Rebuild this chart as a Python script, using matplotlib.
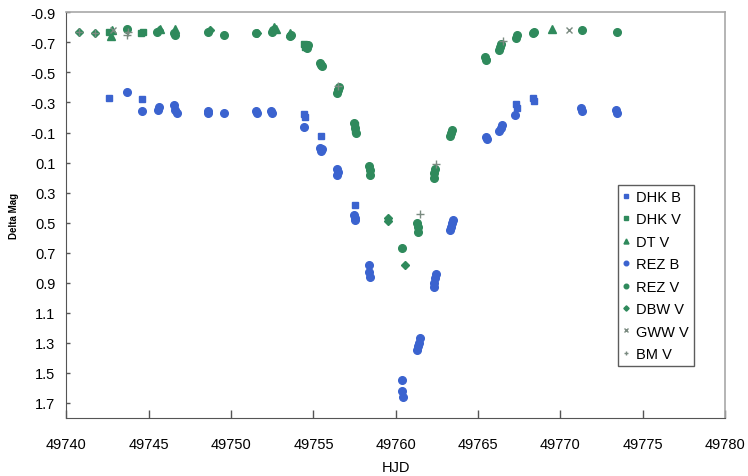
import matplotlib

matplotlib.use("Agg")
import matplotlib.pyplot as plt

plt.rcParams["font.family"] = ["Liberation Sans", "DejaVu Sans"]

BLUE = "#3b63cf"
GREEN = "#2f8a5c"
GREY = "#7a8a80"

# B band
dhk_b_hjd = [49742.6, 49744.6, 49754.45, 49754.5, 49755.45, 49757.5, 49767.3, 49767.35, 49768.35, 49768.4]
dhk_b_mag = [-0.33, -0.32, -0.22, -0.20, -0.08, 0.38, -0.29, -0.26, -0.33, -0.31]

rez_b_hjd = [49743.7, 49744.6, 49745.6, 49745.55, 49746.55, 49746.6, 49746.7,
             49748.6, 49748.62, 49749.55, 49751.5, 49751.55, 49752.45, 49752.5,
             49754.4, 49755.4, 49755.45, 49755.5, 49756.45, 49756.5, 49756.42,
             49757.45, 49757.5, 49757.55, 49758.35, 49758.4, 49758.45,
             49760.35, 49760.37, 49760.42, 49761.3, 49761.35, 49761.4, 49761.45,
             49762.3, 49762.35, 49762.4, 49762.45, 49763.3, 49763.35, 49763.4, 49763.45,
             49765.5, 49765.52, 49766.3, 49766.38, 49766.45, 49767.25,
             49771.25, 49771.3, 49773.4, 49773.45]
rez_b_mag = [-0.37, -0.24, -0.27, -0.25, -0.28, -0.25, -0.23,
             -0.24, -0.23, -0.23, -0.24, -0.23, -0.24, -0.23,
             -0.14, 0.0, 0.02, 0.01, 0.14, 0.16, 0.18,
             0.45, 0.47, 0.48, 0.78, 0.83, 0.86,
             1.55, 1.62, 1.66, 1.35, 1.32, 1.30, 1.27,
             0.93, 0.90, 0.87, 0.84, 0.55, 0.53, 0.50, 0.48,
             -0.07, -0.06, -0.11, -0.13, -0.15, -0.215,
             -0.26, -0.24, -0.25, -0.23]

# V band
dhk_v_hjd = [49742.6, 49744.55, 49744.65, 49754.45, 49754.5, 49757.5, 49757.55]
dhk_v_mag = [-0.77, -0.76, -0.77, -0.69, -0.67, -0.15, -0.12]

dt_v_hjd = [49742.7, 49742.75, 49745.7, 49746.6, 49752.6, 49752.7, 49753.6, 49769.5]
dt_v_mag = [-0.74, -0.78, -0.79, -0.79, -0.80, -0.79, -0.76, -0.79]

rez_v_hjd = [49743.7, 49745.5, 49746.55, 49746.6, 49748.6, 49749.55, 49751.5,
             49752.5, 49752.55, 49753.6, 49753.65, 49754.55, 49754.6, 49754.65,
             49755.4, 49755.45, 49755.5, 49756.45, 49756.5, 49756.55,
             49757.45, 49757.5, 49757.6, 49758.38, 49758.42, 49758.46,
             49760.37, 49761.28, 49761.33, 49761.38, 49762.3, 49762.35, 49762.4,
             49763.3, 49763.35, 49763.4, 49765.45, 49765.5, 49766.3, 49766.36, 49766.42,
             49767.3, 49767.35, 49768.35, 49768.4, 49771.3, 49773.45]
rez_v_mag = [-0.79, -0.77, -0.76, -0.75, -0.77, -0.75, -0.76,
             -0.77, -0.78, -0.74, -0.75, -0.67, -0.66, -0.68,
             -0.56, -0.55, -0.54, -0.36, -0.38, -0.40,
             -0.16, -0.13, -0.10, 0.12, 0.15, 0.18,
             0.67, 0.50, 0.53, 0.56, 0.20, 0.17, 0.14,
             -0.08, -0.10, -0.12, -0.60, -0.58, -0.65, -0.67, -0.69,
             -0.73, -0.75, -0.76, -0.77, -0.78, -0.77]

dbw_v_hjd = [49740.75, 49741.75, 49745.6, 49748.7, 49751.6, 49756.5, 49759.5, 49759.52, 49760.57, 49765.5]
dbw_v_mag = [-0.77, -0.76, -0.78, -0.78, -0.76, -0.39, 0.47, 0.49, 0.78, -0.59]

gww_v_hjd = [49742.8, 49770.55]
gww_v_mag = [-0.78, -0.78]

bm_v_hjd = [49740.75, 49741.75, 49743.7, 49743.72, 49756.5, 49761.5, 49762.45, 49766.5]
bm_v_mag = [-0.77, -0.76, -0.75, -0.77, -0.41, 0.445, 0.11, -0.71]

series = [
    ("DHK B", dhk_b_hjd, dhk_b_mag, "s", BLUE, 5),
    ("DHK V", dhk_v_hjd, dhk_v_mag, "s", GREEN, 5),
    ("DT V", dt_v_hjd, dt_v_mag, "^", GREEN, 6),
    ("REZ B", rez_b_hjd, rez_b_mag, "o", BLUE, 5.5),
    ("REZ V", rez_v_hjd, rez_v_mag, "o", GREEN, 5.5),
    ("DBW V", dbw_v_hjd, dbw_v_mag, "D", GREEN, 4.5),
    ("GWW V", gww_v_hjd, gww_v_mag, "x", GREY, 4.5),
    ("BM V", bm_v_hjd, bm_v_mag, "+", GREY, 5.5),
]

fig = plt.figure(figsize=(7.48, 4.77), dpi=100)
ax = fig.add_axes([0.0889, 0.1216, 0.8804, 0.8505])

for label, x, y, marker, color, size in series:
    ax.plot(x, y, linestyle="none", marker=marker, color=color, markersize=size,
            markeredgewidth=1.0, label=label)

ax.set_xlim(49740, 49780)
ax.set_ylim(1.8, -0.9)
ax.set_xticks(range(49740, 49781, 5))
yt = [round(-0.9 + 0.2 * i, 1) for i in range(14)]
ax.set_yticks(yt)
ax.set_yticklabels([f"{v:.1f}" for v in yt])
ax.tick_params(axis="x", direction="in", length=6, width=1, color="#555555",
               labelsize=10.5, pad=14)
ax.tick_params(axis="y", direction="in", length=3, width=1, color="#555555",
               labelsize=10.5, pad=8)

for side in ("left", "bottom"):
    ax.spines[side].set_color("#555555")
for side in ("top", "right"):
    ax.spines[side].set_color("#a8a8a8")
    ax.spines[side].set_linewidth(1.2)

ax.set_xlabel("HJD", fontsize=10.5, labelpad=6)
ax.set_ylabel("Delta Mag", fontsize=7, fontweight="bold", labelpad=8)

leg = ax.legend(loc="upper left", bbox_to_anchor=(0.837, 0.575), fontsize=10.5,
                frameon=True, fancybox=False, edgecolor="#333333",
                markerscale=0.6, handlelength=0.5, handletextpad=0.4,
                labelspacing=0.58, borderpad=0.35, borderaxespad=0)
leg.get_frame().set_linewidth(1.0)

fig.savefig("out.png", dpi=100)
